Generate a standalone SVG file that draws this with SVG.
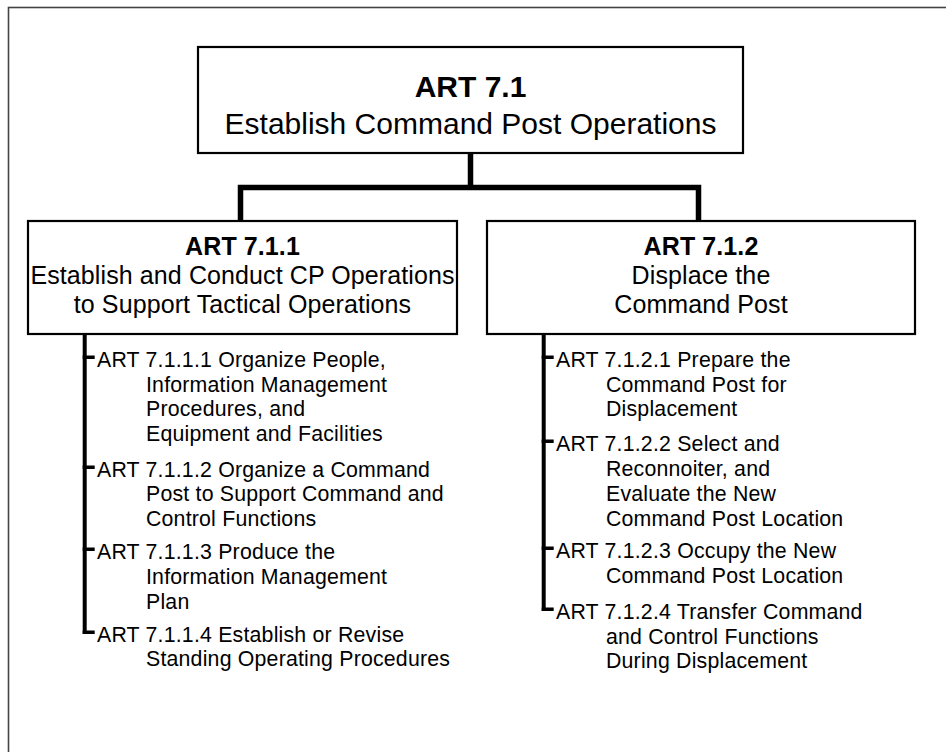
<svg xmlns="http://www.w3.org/2000/svg" width="946" height="752" viewBox="0 0 946 752">
<style>
text{font-family:"Liberation Sans",Arial,Helvetica,sans-serif;fill:#000}
.box{fill:#fff;stroke:#000;stroke-width:2.2}
.t1{font-size:30px}
.t2{font-size:25px;letter-spacing:0.1px}
.it{font-size:21.3px;letter-spacing:0.2px}
.b{font-weight:bold}
.c{text-anchor:middle}
.con{fill:none;stroke:#000;stroke-width:5.5;stroke-linejoin:miter;stroke-linecap:square}
.bar{fill:#000}
</style>
<rect x="8.5" y="7.5" width="1000" height="800" fill="none" stroke="#444" stroke-width="1.6"/>
<g id="connectors">
<path class="con" d="M470.5,153 V185"/>
<path class="con" d="M240.5,220 V187.5 H698.5 V220"/>
<rect class="bar" x="82.7" y="334" width="4" height="300"/>
<rect class="bar" x="82.7" y="355.5" width="12" height="3.5"/>
<rect class="bar" x="82.7" y="465.5" width="12" height="3.5"/>
<rect class="bar" x="82.7" y="547.5" width="12" height="3.5"/>
<rect class="bar" x="82.7" y="630.5" width="12" height="3.5"/>
<rect class="bar" x="541.7" y="334" width="4" height="277"/>
<rect class="bar" x="541.7" y="355.5" width="12" height="3.5"/>
<rect class="bar" x="541.7" y="439.5" width="12" height="3.5"/>
<rect class="bar" x="541.7" y="546.5" width="12" height="3.5"/>
<rect class="bar" x="541.7" y="607.5" width="12" height="3.5"/>
</g>
<g id="art71">
<rect class="box" x="198" y="47" width="545" height="106"/>
<text class="t1 b c" x="470.5" y="97">ART 7.1</text>
<text class="t1 c" x="470.5" y="134">Establish Command Post Operations</text>
</g>
<g id="art711">
<rect class="box" x="28" y="221" width="429" height="113"/>
<text class="t2 b c" x="242.5" y="255">ART 7.1.1</text>
<text class="t2 c" x="242.5" y="284">Establish and Conduct CP Operations</text>
<text class="t2 c" x="242.5" y="313">to Support Tactical Operations</text>
</g>
<g id="art712">
<rect class="box" x="487" y="221" width="428" height="113"/>
<text class="t2 b c" x="701" y="255">ART 7.1.2</text>
<text class="t2 c" x="701" y="284">Displace the</text>
<text class="t2 c" x="701" y="313">Command Post</text>
</g>
<g id="art7111">
<text class="it" x="97" y="367">ART 7.1.1.1 Organize People,</text>
<text class="it" x="146" y="392">Information Management</text>
<text class="it" x="146" y="416">Procedures, and</text>
<text class="it" x="146" y="441">Equipment and Facilities</text>
</g>
<g id="art7112">
<text class="it" x="97" y="477">ART 7.1.1.2 Organize a Command</text>
<text class="it" x="146" y="501">Post to Support Command and</text>
<text class="it" x="146" y="526">Control Functions</text>
</g>
<g id="art7113">
<text class="it" x="97" y="559">ART 7.1.1.3 Produce the</text>
<text class="it" x="146" y="584">Information Management</text>
<text class="it" x="146" y="609">Plan</text>
</g>
<g id="art7114">
<text class="it" x="97" y="642">ART 7.1.1.4 Establish or Revise</text>
<text class="it" x="146" y="666">Standing Operating Procedures</text>
</g>
<g id="art7121">
<text class="it" x="556" y="367">ART 7.1.2.1 Prepare the</text>
<text class="it" x="606" y="392">Command Post for</text>
<text class="it" x="606" y="416">Displacement</text>
</g>
<g id="art7122">
<text class="it" x="556" y="451">ART 7.1.2.2 Select and</text>
<text class="it" x="606" y="476">Reconnoiter, and</text>
<text class="it" x="606" y="501">Evaluate the New</text>
<text class="it" x="606" y="526">Command Post Location</text>
</g>
<g id="art7123">
<text class="it" x="556" y="558">ART 7.1.2.3 Occupy the New</text>
<text class="it" x="606" y="583">Command Post Location</text>
</g>
<g id="art7124">
<text class="it" x="556" y="619">ART 7.1.2.4 Transfer Command</text>
<text class="it" x="606" y="644">and Control Functions</text>
<text class="it" x="606" y="668">During Displacement</text>
</g>
</svg>
